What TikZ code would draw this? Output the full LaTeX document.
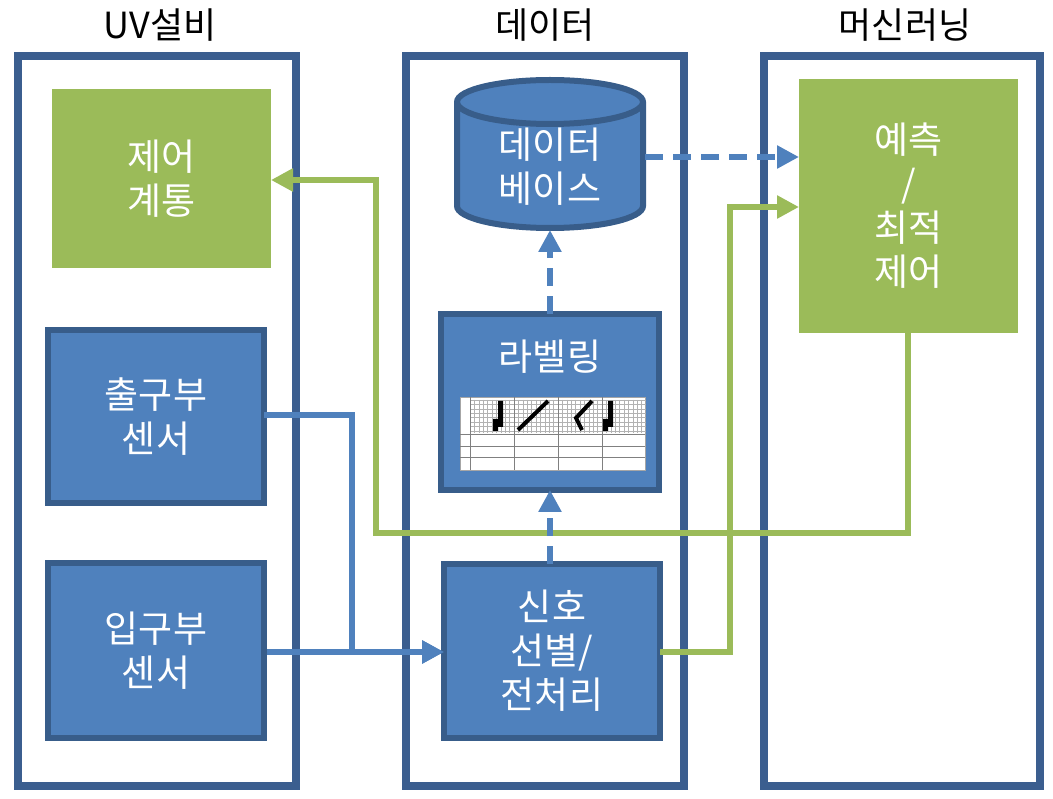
\documentclass[tikz,border=0pt]{standalone}
\usepackage{fontspec}
\setmainfont{Noto Sans CJK KR}
\usetikzlibrary{arrows.meta,shapes.geometric}
\definecolor{frameb}{HTML}{3B5E8F}
\definecolor{boxb}{HTML}{4F81BD}
\definecolor{edgeb}{HTML}{385D8A}
\definecolor{gr}{HTML}{9BBB59}
\begin{document}
\begin{tikzpicture}[x=1pt,y=-1pt,
 frame/.style={draw=frameb,line width=8pt,fill=white},
 bbox/.style={draw=edgeb,line width=6pt,fill=boxb},
 gbox/.style={fill=gr},
 lbl/.style={text=white,font=\fontsize{37}{44}\selectfont,align=center},
 hd/.style={font=\fontsize{36}{40}\selectfont},
 bl/.style={draw=boxb,line width=6pt,-{Triangle[length=22pt,width=22pt]}},
 gl/.style={draw=gr,line width=6pt,-{Triangle[length=22pt,width=22pt]}},
 dl/.style={bl,dash pattern=on 18pt off 10pt}]
\useasboundingbox (0,0) rectangle (1053,799);
\draw[frame] (18,56) rectangle (296,786);
\draw[frame] (406,56) rectangle (684,786);
\draw[frame] (764,56) rectangle (1040,786);
\node[hd] (h1) at (160,25) {UV설비};
\node[hd] (h2) at (545,25) {데이터};
\node[hd] (h3) at (905,25) {머신러닝};
\node[gbox,minimum width=219pt,minimum height=179pt] (ctrl) at (161.5,178.5) {};
\node[lbl] at (161.5,178.5) {제어\\계통};
\node[bbox,minimum width=216pt,minimum height=173pt] (out) at (156,416.5) {};
\node[lbl] at (156,416.5) {출구부\\센서};
\node[bbox,minimum width=216pt,minimum height=175pt] (in) at (156,650.5) {};
\node[lbl] at (156,650.5) {입구부\\센서};
\node[bbox,minimum width=216pt,minimum height=174pt] (sig) at (552,651) {};
\node[lbl] at (552,651) {신호\\선별/\\전처리};
\node[bbox,minimum width=218pt,minimum height=176pt] (lab) at (550,402) {};
\node[lbl] at (550,357) {라벨링};
% small table image
\fill[white] (460,397) rectangle (645,470);
\draw[gray!70,line width=0.4pt] (460,397) rectangle (645,470);
\foreach \i in {0,1,2,3}{
  \pgfmathsetmacro\xa{470+\i*44}
  \foreach \k in {0,...,9}{\draw[gray!60,line width=0.3pt] (\xa+\k*4.4,400)--(\xa+\k*4.4,433);}
  \foreach \k in {0,...,7}{\draw[gray!60,line width=0.3pt] (\xa,400+\k*4.4)--(\xa+44,400+\k*4.4);}
  \draw[gray,line width=0.4pt] (\xa,397)--(\xa,470);
}
\draw[gray,line width=0.4pt] (460,434)--(645,434) (460,446)--(645,446) (460,457)--(645,457);
\fill[black] (498,401) rectangle (503,427) (493,419) rectangle (498,431);
\draw[black,line width=4pt] (518,430)--(548,401);
\draw[black,line width=4pt] (582,430)--(576,418)--(592,401);
\fill[black] (608,401) rectangle (613,427) (603,419) rectangle (608,431);
% cylinder
\coordinate (db) at (550,157);
\draw[edgeb,line width=6pt,fill=boxb] (457,102) -- (457,206) arc[start angle=180,end angle=360,x radius=93pt,y radius=22pt] -- (643,102) arc[start angle=0,end angle=180,x radius=93pt,y radius=22pt] -- cycle;
\draw[edgeb,line width=6pt] (457,102) arc[start angle=180,end angle=360,x radius=93pt,y radius=22pt];
\node[lbl] at (550,167) {데이터\\베이스};
\node[gbox,minimum width=219pt,minimum height=254pt] (pred) at (908.5,206) {};
\node[lbl,font=\fontsize{37}{44}\selectfont] at (908.5,206) {예측\\/\\최적\\제어};
% connectors
\coordinate (o1) at (264,415);
\coordinate (c1) at (352,415);
\coordinate (c2) at (352,652);
\coordinate (sigL) at (444,652);
\draw[bl] (o1) -- (c1) -- (c2) -- (sigL);
\draw[bl] (in.east |- sigL) -- (sigL);
\coordinate (p1) at (908,333);
\draw[gl] (p1) -- (908,533) -- (376,533) -- (376,180) -- (271,180);
\draw[gl] (660,652) -- (730,652) -- (730,207) -- (799,207);
\draw[dl] (550,564) -- (550,490);
\draw[dl] (550,314) -- (550,230);
\draw[dl] (645,157) -- (799,157);
\end{tikzpicture}
\end{document}
